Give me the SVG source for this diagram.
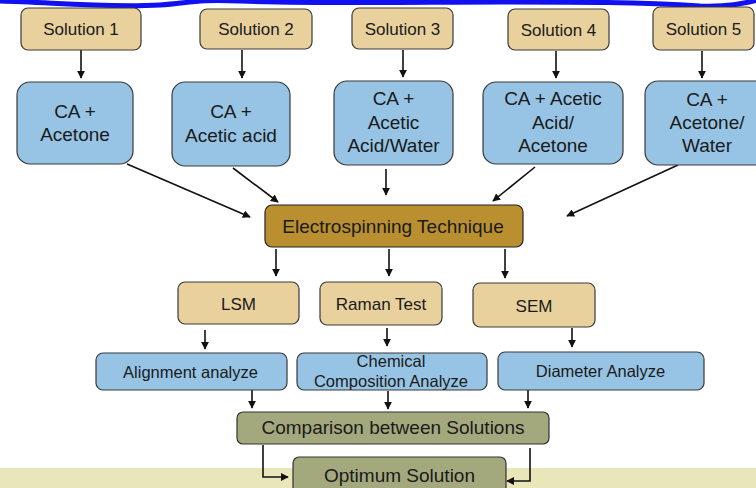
<svg xmlns="http://www.w3.org/2000/svg" width="756" height="488" viewBox="0 0 756 488">
<defs>
<style>
.sol{fill:#E8D19D;stroke:#3a3a3a;stroke-width:1.2}
.ca{fill:#97C4E4;stroke:#3a3a3a;stroke-width:1.2}
.el{fill:#B98F2F;stroke:#222;stroke-width:1.2}
.cmp{fill:#A4A87D;stroke:#333;stroke-width:1.2}
text{font-family:"Liberation Sans",Arial,sans-serif;fill:#1a1a1a;text-anchor:middle}
.t17{font-size:17px}
.t19{font-size:19px}
.t16{font-size:16.5px}
.ln{stroke:#111;stroke-width:1.6;fill:none;marker-end:url(#ah)}
</style>
<marker id="ah" viewBox="0 0 10 10" refX="9" refY="5" markerWidth="5" markerHeight="5" orient="auto" markerUnits="strokeWidth">
<path d="M0,0 L10,5 L0,10 z" fill="#111"/>
</marker>
</defs>
<rect x="0" y="468" width="756" height="20" fill="#E9E7BA"/>
<path d="M-2,1 C50,2 100,8 160,5 C190,3 195,-1 240,1 C330,4 420,2 500,2 C580,2 640,2 700,6 C730,7 745,3 758,0" fill="none" stroke="#1010F0" stroke-width="5"/>
<g id="connectors">
<line class="ln" x1="81" y1="50" x2="81" y2="78"/>
<line class="ln" x1="242" y1="50" x2="242" y2="78"/>
<line class="ln" x1="403" y1="50" x2="403" y2="77"/>
<line class="ln" x1="556" y1="51" x2="556" y2="78"/>
<line class="ln" x1="702" y1="51" x2="702" y2="78"/>
<line class="ln" x1="127" y1="164" x2="250" y2="217"/>
<line class="ln" x1="233" y1="168" x2="278" y2="202"/>
<line class="ln" x1="386" y1="169" x2="386" y2="195"/>
<line class="ln" x1="535" y1="167" x2="493" y2="201"/>
<line class="ln" x1="678" y1="165" x2="567" y2="216"/>
<line class="ln" x1="276" y1="249" x2="276" y2="276"/>
<line class="ln" x1="389" y1="249" x2="389" y2="276"/>
<line class="ln" x1="505" y1="249" x2="505" y2="278"/>
<line class="ln" x1="205" y1="330" x2="205" y2="349"/>
<line class="ln" x1="387" y1="328" x2="387" y2="346"/>
<line class="ln" x1="572" y1="328" x2="572" y2="347"/>
<line class="ln" x1="252" y1="390" x2="252" y2="408"/>
<line class="ln" x1="388" y1="391" x2="388" y2="409"/>
<line class="ln" x1="528" y1="390" x2="528" y2="408"/>
<polyline class="ln" points="263,445 263,477 288,477"/>
<polyline class="ln" points="530,448 530,481 507,481"/>
</g>
<g id="solution1"><rect class="sol" x="21" y="8" width="120" height="42" rx="7"/><text class="t17" x="81" y="35">Solution 1</text></g>
<g id="solution2"><rect class="sol" x="200" y="9" width="112" height="40" rx="7"/><text class="t17" x="256" y="35">Solution 2</text></g>
<g id="solution3"><rect class="sol" x="352" y="8" width="101" height="41" rx="7"/><text class="t17" x="402.5" y="35">Solution 3</text></g>
<g id="solution4"><rect class="sol" x="508" y="9" width="101" height="41" rx="7"/><text class="t17" x="558.5" y="36">Solution 4</text></g>
<g id="solution5"><rect class="sol" x="653" y="7" width="101" height="43" rx="7"/><text class="t17" x="703.5" y="35">Solution 5</text></g>
<g id="ca1"><rect class="ca" x="17" y="82" width="116" height="82" rx="13"/><text class="t19" x="75" y="118">CA +</text><text class="t19" x="75" y="141">Acetone</text></g>
<g id="ca2"><rect class="ca" x="172" y="82" width="118" height="84" rx="13"/><text class="t19" x="231" y="118">CA +</text><text class="t19" x="231" y="142">Acetic acid</text></g>
<g id="ca3"><rect class="ca" x="334" y="81" width="119" height="84" rx="13"/><text class="t19" x="393.5" y="105">CA +</text><text class="t19" x="393.5" y="129">Acetic</text><text class="t19" x="393.5" y="152">Acid/Water</text></g>
<g id="ca4"><rect class="ca" x="483" y="82" width="140" height="82" rx="13"/><text class="t19" x="553" y="105">CA + Acetic</text><text class="t19" x="553" y="129">Acid/</text><text class="t19" x="553" y="152">Acetone</text></g>
<g id="ca5"><rect class="ca" x="645" y="81" width="124" height="84" rx="13"/><text class="t19" x="707" y="106">CA +</text><text class="t19" x="707" y="129">Acetone/</text><text class="t19" x="707" y="152">Water</text></g>
<g id="electrospinning"><rect class="el" x="265" y="205" width="258" height="42" rx="7"/><text class="t19" x="393" y="233">Electrospinning Technique</text></g>
<g id="lsm"><rect class="sol" x="178" y="282" width="121" height="42" rx="7"/><text class="t17" x="238.5" y="310">LSM</text></g>
<g id="raman"><rect class="sol" x="320" y="282" width="122" height="43" rx="7"/><text class="t17" x="381" y="310">Raman Test</text></g>
<g id="sem"><rect class="sol" x="473" y="283" width="122" height="44" rx="7"/><text class="t17" x="534" y="312">SEM</text></g>
<g id="alignment"><rect class="ca" x="96" y="353" width="191" height="37" rx="7"/><text class="t16" x="190.5" y="378">Alignment analyze</text></g>
<g id="chemical"><rect class="ca" x="297" y="353" width="190" height="37" rx="7"/><text class="t16" x="391" y="367">Chemical</text><text class="t16" x="391" y="387">Composition Analyze</text></g>
<g id="diameter"><rect class="ca" x="498" y="352" width="206" height="38" rx="7"/><text class="t16" x="600.5" y="377">Diameter Analyze</text></g>
<g id="comparison"><rect class="cmp" x="237" y="412" width="312" height="32" rx="6"/><text class="t19" x="393" y="434">Comparison between Solutions</text></g>
<g id="optimum"><rect class="cmp" x="293" y="457" width="213" height="40" rx="6"/><text class="t19" x="399.5" y="482">Optimum Solution</text></g>
</svg>
